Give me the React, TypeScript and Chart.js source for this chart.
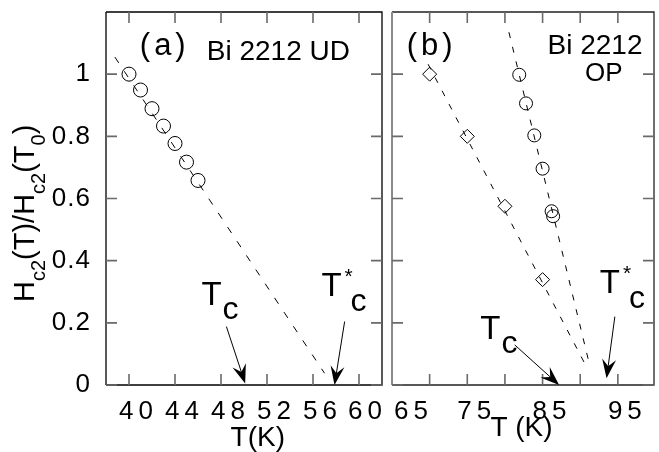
import React, { useEffect, useRef } from 'react';
import { Chart, registerables } from 'chart.js';
Chart.register(...registerables);

const FONT = '"Liberation Sans", Arial, Helvetica, sans-serif';

// ---- Panel (a): Bi 2212 UD ----
const udT = [40, 41, 42, 43, 44, 45, 46];
const udH = [1.0, 0.949, 0.889, 0.833, 0.777, 0.717, 0.658];
const udFitT = [38.77, 57.0];
const udFitH = [1.055, 0.038];

// ---- Panel (b): Bi 2212 OP ----
const opDiamondT = [70, 75, 80, 85];
const opDiamondH = [1.0, 0.8, 0.575, 0.339];
const opCircleT = [81.9, 82.8, 83.9, 85.0, 86.2, 86.4];
const opCircleH = [0.998, 0.906, 0.803, 0.696, 0.559, 0.543];
const opDiamondFitT = [69.8, 90.8];
const opDiamondFitH = [1.032, 0.06];
const opCircleFitT = [80.53, 91.3];
const opCircleFitH = [1.135, 0.059];

// ---- Axes ----
const yTicks = [0, 0.2, 0.4, 0.6, 0.8, 1];
const yTickLabels = ['0', '0.2', '0.4', '0.6', '0.8', '1'];
const udXTicks = [40, 44, 48, 52, 56, 60];
const udXLabelValues = [40, 44, 48, 52, 56, 60];
const udXTickLabels = ['40', '44', '48', '52', '56', '60'];
const opXTicks = [70, 75, 80, 85, 90, 95];
const opXLabelValues = [65, 75, 85, 95];
const opXTickLabels = ['65', '75', '85', '95'];

// ---- Annotations (data coordinates) ----
const udArrows = [
  [48.47, 0.188, 50.1, 0.005],
  [58.75, 0.204, 57.87, 0.0],
];
const opArrows = [
  [81.3, 0.129, 87.2, 0.0],
  [94.6, 0.22, 93.5, 0.022],
];

type TextItem = { text: string; x: number; y: number; size: number; ls?: number };
type SubLabel = { x: number; y: number; star: boolean };

type PanelCfg = {
  xTicks: number[];
  xLabelValues: number[];
  xLabels: string[];
  showYLabels: boolean;
  texts: TextItem[];
  subLabels: SubLabel[];
  arrows: number[][];
  title: { text: string; x: number; baseline: number };
  frameColor: string;
  leftColor: string;
};

function spacedWidth(ctx: CanvasRenderingContext2D, text: string, ls: number) {
  const chars = text.split('');
  return chars.reduce((a, c) => a + ctx.measureText(c).width, 0) + ls * (chars.length - 1);
}

function drawSpaced(ctx: CanvasRenderingContext2D, text: string, x: number, y: number, ls: number, align: 'left' | 'center' | 'right') {
  const chars = text.split('');
  const widths = chars.map((c) => ctx.measureText(c).width);
  const total = widths.reduce((a, b) => a + b, 0) + ls * (chars.length - 1);
  let cx = align === 'left' ? x : align === 'center' ? x - total / 2 : x - total;
  ctx.textAlign = 'left';
  chars.forEach((c, i) => {
    ctx.fillText(c, cx, y);
    cx += widths[i] + ls;
  });
}

function drawArrow(ctx: CanvasRenderingContext2D, x1: number, y1: number, x2: number, y2: number) {
  const ang = Math.atan2(y2 - y1, x2 - x1);
  const L = 19, W = 7, N = 12;
  const ux = Math.cos(ang), uy = Math.sin(ang);
  const px = -uy, py = ux;
  const bx = x2 - ux * L, by = y2 - uy * L;
  const nx = x2 - ux * N, ny = y2 - uy * N;
  ctx.beginPath();
  ctx.moveTo(x1, y1);
  ctx.lineTo(nx, ny);
  ctx.stroke();
  ctx.beginPath();
  ctx.moveTo(x2, y2);
  ctx.lineTo(bx + px * W, by + py * W);
  ctx.lineTo(nx, ny);
  ctx.lineTo(bx - px * W, by - py * W);
  ctx.closePath();
  ctx.fill();
}

function makeOverlay(p: PanelCfg) {
  return {
    id: 'overlay',
    afterDraw(chart: any) {
      const ctx: CanvasRenderingContext2D = chart.ctx;
      const a = chart.chartArea;
      const xs = chart.scales.x;
      const ys = chart.scales.y;
      ctx.save();
      // frame
      ctx.lineWidth = 1.3;
      ctx.strokeStyle = p.frameColor;
      ctx.beginPath();
      ctx.moveTo(a.left, a.top);
      ctx.lineTo(a.right, a.top);
      ctx.lineTo(a.right, a.bottom);
      ctx.lineTo(a.left, a.bottom);
      ctx.stroke();
      ctx.strokeStyle = p.leftColor;
      ctx.lineWidth = p.leftColor === p.frameColor ? 1.3 : 2;
      ctx.beginPath();
      ctx.moveTo(a.left, a.top);
      ctx.lineTo(a.left, a.bottom);
      ctx.stroke();
      // inward ticks
      const TL = 11;
      ctx.strokeStyle = '#6a6a6a';
      ctx.lineWidth = 1.6;
      ctx.beginPath();
      for (const v of p.xTicks) {
        const x = xs.getPixelForValue(v);
        ctx.moveTo(x, a.bottom); ctx.lineTo(x, a.bottom - TL);
        ctx.moveTo(x, a.top); ctx.lineTo(x, a.top + TL);
      }
      for (const v of yTicks) {
        const y = ys.getPixelForValue(v);
        ctx.moveTo(a.left, y); ctx.lineTo(a.left + TL, y);
        ctx.moveTo(a.right, y); ctx.lineTo(a.right - TL, y);
      }
      ctx.stroke();
      // x tick labels (kept inside the panel's horizontal extent)
      ctx.fillStyle = '#000';
      ctx.font = `26px ${FONT}`;
      ctx.textBaseline = 'alphabetic';
      const xls = 5;
      p.xLabelValues.forEach((v, i) => {
        const w = spacedWidth(ctx, p.xLabels[i], xls);
        let left = xs.getPixelForValue(v) + 7 - w / 2;
        if (left < a.left + 2) left = a.left + 2;
        if (left + w > a.right) left = a.right - w;
        drawSpaced(ctx, p.xLabels[i], left, a.bottom + 34, xls, 'left');
      });
      if (p.showYLabels) {
        ctx.textBaseline = 'middle';
        ctx.font = `26px ${FONT}`;
        yTicks.forEach((v, i) => {
          const y = ys.getPixelForValue(v);
          drawSpaced(ctx, yTickLabels[i], a.left - 16, y, 1, 'right');
        });
        // y-axis title with subscripts, rotated
        ctx.save();
        ctx.translate(33.5, 302);
        ctx.rotate(-Math.PI / 2);
        ctx.textBaseline = 'alphabetic';
        ctx.textAlign = 'left';
        const parts: [string, boolean][] = [
          ['H', false], ['c2', true], ['(T)/H', false], ['c2', true], ['(T', false], ['0', true], [')', false],
        ];
        let cx = 0;
        for (const [t, sub] of parts) {
          ctx.font = sub ? `20px ${FONT}` : `29px ${FONT}`;
          ctx.fillText(t, cx, sub ? 11 : 0);
          cx += ctx.measureText(t).width;
        }
        ctx.restore();
      }
      // axis title
      ctx.textBaseline = 'alphabetic';
      ctx.font = `28px ${FONT}`;
      drawSpaced(ctx, p.title.text, xs.getPixelForValue(p.title.x), p.title.baseline, 0, 'center');
      // panel texts
      for (const t of p.texts) {
        ctx.font = `${t.size}px ${FONT}`;
        drawSpaced(ctx, t.text, xs.getPixelForValue(t.x), ys.getPixelForValue(t.y), t.ls || 0, 'left');
      }
      // Tc / T*c labels
      for (const s of p.subLabels) {
        const x = xs.getPixelForValue(s.x);
        const y = ys.getPixelForValue(s.y);
        ctx.font = `33px ${FONT}`;
        ctx.fillText('T', x, y);
        const wT = ctx.measureText('T').width;
        if (s.star) {
          ctx.font = `21px ${FONT}`;
          ctx.fillText('*', x + wT + 3, y - 13);
          ctx.font = `32px ${FONT}`;
          ctx.fillText('c', x + wT + 9, y + 15);
        } else {
          ctx.font = `32px ${FONT}`;
          ctx.fillText('c', x + wT + 1, y + 14);
        }
      }
      // arrows
      ctx.strokeStyle = '#000';
      ctx.fillStyle = '#000';
      ctx.lineWidth = 1;
      for (const ar of p.arrows) {
        drawArrow(ctx, xs.getPixelForValue(ar[0]), ys.getPixelForValue(ar[1]), xs.getPixelForValue(ar[2]), ys.getPixelForValue(ar[3]));
      }
      ctx.restore();
    },
  };
}

const toPts = (xs: number[], ys: number[]) => xs.map((x, i) => ({ x, y: ys[i] }));

function fitLine(xs: number[], ys: number[], dash: number[]) {
  return {
    data: toPts(xs, ys),
    showLine: true,
    borderColor: '#000',
    borderWidth: 1,
    borderDash: dash,
    pointRadius: 0,
    fill: false,
  };
}

function pointSet(xs: number[], ys: number[], style: string, r: number) {
  return {
    data: toPts(xs, ys),
    showLine: false,
    pointStyle: style,
    pointRadius: r,
    pointBorderColor: '#000',
    borderColor: '#000',
    pointBorderWidth: 1,
    pointBackgroundColor: 'rgba(0,0,0,0)',
    backgroundColor: 'rgba(0,0,0,0)',
  };
}

function makeOptions(xmin: number, xmax: number, yWidth: number, padding: any) {
  return {
    animation: false,
    responsive: false,
    events: [],
    layout: { padding },
    plugins: { legend: { display: false }, tooltip: { enabled: false } },
    scales: {
      x: {
        type: 'linear',
        min: xmin,
        max: xmax,
        grid: { display: false },
        border: { display: false },
        ticks: { display: false },
        afterFit(s: any) { s.height = 67; s.paddingLeft = 0; s.paddingRight = 0; },
      },
      y: {
        type: 'linear',
        min: 0,
        max: 1.2,
        grid: { display: false },
        border: { display: false },
        ticks: { display: false },
        afterFit(s: any) { s.width = yWidth; s.paddingTop = 0; s.paddingBottom = 0; },
      },
    },
  };
}

export default function App() {
  const refA = useRef<HTMLCanvasElement>(null);
  const refB = useRef<HTMLCanvasElement>(null);

  useEffect(() => {
    const panelA: PanelCfg = {
      xTicks: udXTicks,
      xLabelValues: udXLabelValues,
      xLabels: udXTickLabels,
      showYLabels: true,
      texts: [
        { text: '(a)', x: 40.94, y: 1.061, size: 31, ls: 4 },
        { text: 'Bi 2212 UD', x: 46.76, y: 1.045, size: 28 },
      ],
      subLabels: [
        { x: 46.3, y: 0.258, star: false },
        { x: 56.73, y: 0.285, star: true },
      ],
      arrows: udArrows,
      title: { text: 'T(K)', x: 51.2, baseline: 446 },
      frameColor: '#000',
      leftColor: '#000',
    };
    const panelB: PanelCfg = {
      xTicks: opXTicks,
      xLabelValues: opXLabelValues,
      xLabels: opXTickLabels,
      showYLabels: false,
      texts: [
        { text: '(b)', x: 66.95, y: 1.061, size: 31, ls: 4 },
        { text: 'Bi 2212', x: 85.66, y: 1.065, size: 28 },
        { text: 'OP', x: 90.65, y: 0.979, size: 26 },
      ],
      subLabels: [
        { x: 76.72, y: 0.148, star: false },
        { x: 92.6, y: 0.297, star: true },
      ],
      arrows: opArrows,
      title: { text: 'T (K)', x: 82.2, baseline: 436 },
      frameColor: '#222',
      leftColor: '#8a8a8a',
    };

    const chartA = new Chart(refA.current as HTMLCanvasElement, {
      type: 'scatter',
      data: {
        datasets: [
          fitLine(udFitT, udFitH, [7, 10]) as any,
          pointSet(udT, udH, 'circle', 7) as any,
        ],
      },
      options: makeOptions(38, 62, 106, { left: 0, right: 7, top: 12, bottom: 0 }) as any,
      plugins: [makeOverlay(panelA)],
    });
    const chartB = new Chart(refB.current as HTMLCanvasElement, {
      type: 'scatter',
      data: {
        datasets: [
          fitLine(opDiamondFitT, opDiamondFitH, [6, 9]) as any,
          fitLine(opCircleFitT, opCircleFitH, [6, 9]) as any,
          pointSet(opDiamondT, opDiamondH, 'rectRot', 7) as any,
          pointSet(opCircleT, opCircleH, 'circle', 6.5) as any,
        ],
      },
      options: makeOptions(65, 99.8, 0, { left: 8, right: 2, top: 12, bottom: 0 }) as any,
      plugins: [makeOverlay(panelB)],
    });
    return () => {
      chartA.destroy();
      chartB.destroy();
    };
  }, []);

  return (
    <div style={{ position: 'fixed', left: 0, top: 0, width: 659, height: 452, overflow: 'hidden', background: '#fff' }}>
      <canvas ref={refA} width={390} height={452} style={{ position: 'absolute', left: 0, top: 0, width: 390, height: 452 }} />
      <canvas ref={refB} width={278} height={452} style={{ position: 'absolute', left: 384, top: 0, width: 278, height: 452 }} />
    </div>
  );
}
